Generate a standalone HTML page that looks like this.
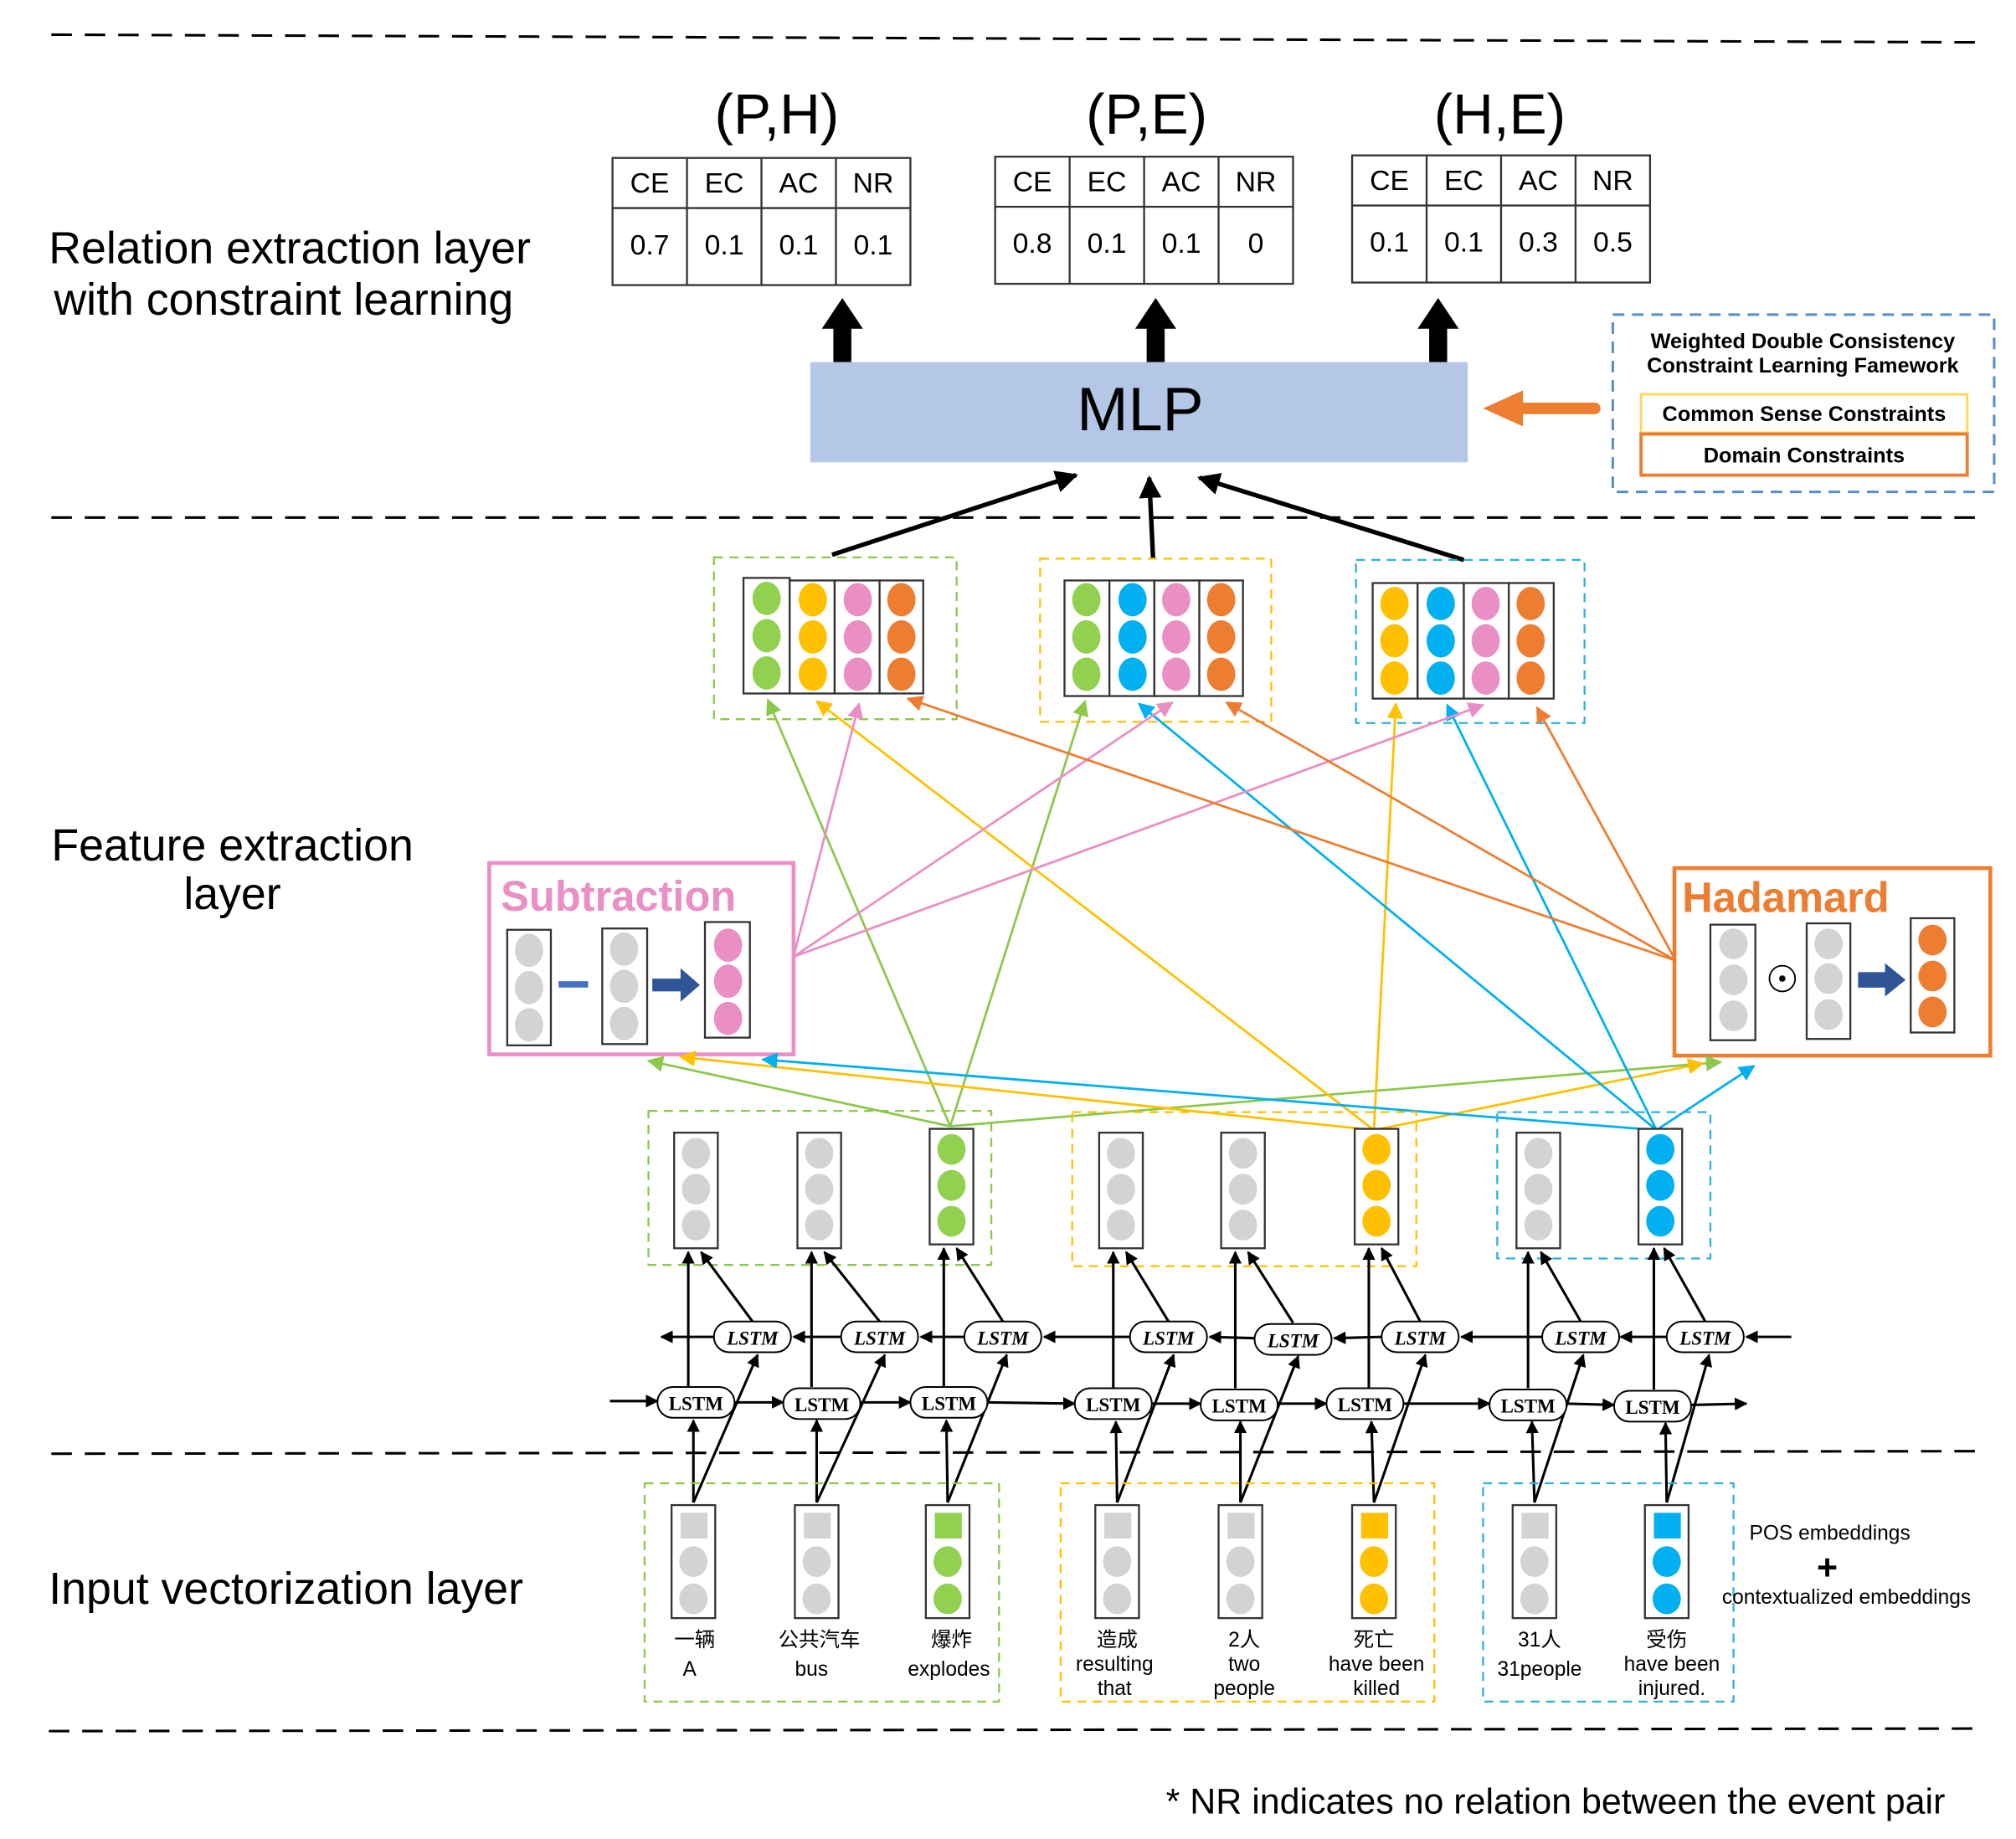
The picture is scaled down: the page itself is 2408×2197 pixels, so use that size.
<!DOCTYPE html>
<html><head><meta charset="utf-8"><style>
html,body{margin:0;padding:0;background:#fff}
svg{display:block}
text{font-family:"Liberation Sans","Noto Sans CJK SC",sans-serif}
</style></head><body>
<svg width="2408" height="2197" viewBox="0 0 1570 1432" preserveAspectRatio="none" xmlns="http://www.w3.org/2000/svg">
<defs>
<marker id="ak" viewBox="0 0 10 10" refX="9" refY="5" markerWidth="5" markerHeight="5" orient="auto"><path d="M0,0L10,5L0,10z" fill="#000"/></marker>
<marker id="ag" viewBox="0 0 10 10" refX="9" refY="5" markerWidth="7" markerHeight="7" orient="auto"><path d="M0,0L10,5L0,10z" fill="#8cc84b"/></marker>
<marker id="ay" viewBox="0 0 10 10" refX="9" refY="5" markerWidth="7" markerHeight="7" orient="auto"><path d="M0,0L10,5L0,10z" fill="#ffc000"/></marker>
<marker id="ab" viewBox="0 0 10 10" refX="9" refY="5" markerWidth="7" markerHeight="7" orient="auto"><path d="M0,0L10,5L0,10z" fill="#00b0f0"/></marker>
<marker id="ap" viewBox="0 0 10 10" refX="9" refY="5" markerWidth="7" markerHeight="7" orient="auto"><path d="M0,0L10,5L0,10z" fill="#e98ec4"/></marker>
<marker id="ao" viewBox="0 0 10 10" refX="9" refY="5" markerWidth="7" markerHeight="7" orient="auto"><path d="M0,0L10,5L0,10z" fill="#ed7d31"/></marker>
</defs>

<g stroke="#000" stroke-width="2" stroke-dasharray="16,10">
<line x1="40" y1="27" x2="1545" y2="33"/>
<line x1="40" y1="403" x2="1545" y2="403"/>
<line x1="40" y1="1132" x2="1545" y2="1130"/>
<line x1="38" y1="1348" x2="1545" y2="1346"/>
</g>

<g font-size="35" fill="#000">
<text x="38" y="205">Relation extraction layer</text>
<text x="42" y="245">with constraint learning</text>
<text x="40" y="670">Feature extraction</text>
<text x="143" y="708">layer</text>
<text x="38" y="1249">Input vectorization layer</text>
</g>

<g font-size="44" text-anchor="middle">
<text x="605" y="104">(P,H)</text>
<text x="893" y="104">(P,E)</text>
<text x="1168" y="104">(H,E)</text>
</g>

<g fill="none" stroke="#333" stroke-width="1.5">
<rect x="477" y="123" width="232" height="99"/><line x1="477" y1="162" x2="709" y2="162"/>
<line x1="535" y1="123" x2="535" y2="222"/><line x1="593" y1="123" x2="593" y2="222"/><line x1="651" y1="123" x2="651" y2="222"/>
<rect x="775" y="122" width="232" height="99"/><line x1="775" y1="161" x2="1007" y2="161"/>
<line x1="833" y1="122" x2="833" y2="221"/><line x1="891" y1="122" x2="891" y2="221"/><line x1="949" y1="122" x2="949" y2="221"/>
<rect x="1053" y="121" width="232" height="99"/><line x1="1053" y1="160" x2="1285" y2="160"/>
<line x1="1111" y1="121" x2="1111" y2="220"/><line x1="1169" y1="121" x2="1169" y2="220"/><line x1="1227" y1="121" x2="1227" y2="220"/>
</g>
<g font-size="22" text-anchor="middle">
<text x="506" y="150">CE</text><text x="564" y="150">EC</text><text x="622" y="150">AC</text><text x="680" y="150">NR</text>
<text x="506" y="198">0.7</text><text x="564" y="198">0.1</text><text x="622" y="198">0.1</text><text x="680" y="198">0.1</text>
<text x="804" y="149">CE</text><text x="862" y="149">EC</text><text x="920" y="149">AC</text><text x="978" y="149">NR</text>
<text x="804" y="197">0.8</text><text x="862" y="197">0.1</text><text x="920" y="197">0.1</text><text x="978" y="197">0</text>
<text x="1082" y="148">CE</text><text x="1140" y="148">EC</text><text x="1198" y="148">AC</text><text x="1256" y="148">NR</text>
<text x="1082" y="196">0.1</text><text x="1140" y="196">0.1</text><text x="1198" y="196">0.3</text><text x="1256" y="196">0.5</text>
</g>

<g fill="#000">
<path d="M649,282 L649,256 L640,256 L656,232 L672,256 L663,256 L663,282z"/>
<path d="M893,282 L893,256 L884,256 L900,232 L916,256 L907,256 L907,282z"/>
<path d="M1113,282 L1113,256 L1104,256 L1120,232 L1136,256 L1127,256 L1127,282z"/>
</g>

<rect x="631" y="282" width="512" height="78" fill="#b4c7e7"/>
<text x="888" y="335" font-size="48" text-anchor="middle">MLP</text>

<line x1="1242" y1="318" x2="1180" y2="318" stroke="#ed7d31" stroke-width="9" stroke-linecap="round"/>
<path d="M1155,318 L1186,304 L1186,332z" fill="#ed7d31"/>

<rect x="1256" y="245" width="297" height="138" fill="none" stroke="#5b8ccc" stroke-width="2" stroke-dasharray="9,6"/>
<g font-size="16.5" font-weight="bold" text-anchor="middle">
<text x="1404" y="271">Weighted Double Consistency</text>
<text x="1404" y="290">Constraint Learning Famework</text>
<text x="1405" y="328">Common Sense Constraints</text>
<text x="1405" y="360">Domain Constraints</text>
</g>
<rect x="1278" y="307" width="254" height="30" fill="none" stroke="#ffd966" stroke-width="2"/>
<rect x="1278" y="338" width="254" height="32" fill="none" stroke="#ed7d31" stroke-width="2.5"/>

<g stroke="#000" stroke-width="3.5" marker-end="url(#ak)">
<line x1="648" y1="432" x2="838" y2="370"/>
<line x1="898" y1="435" x2="895" y2="372"/>
<line x1="1140" y1="436" x2="934" y2="372"/>
</g>

<g fill="none" stroke-width="1.5" stroke-dasharray="7,5">
<rect x="556" y="434" width="189" height="126" stroke="#8cc84b"/>
<rect x="810" y="435" width="180" height="127" stroke="#ffc000"/>
<rect x="1056" y="436" width="178" height="127" stroke="#2eb2d8"/>
</g>
<g fill="#fff" stroke="#333" stroke-width="1.5">
<rect x="579" y="450" width="36" height="90"/><rect x="615" y="452" width="35" height="88"/><rect x="650" y="452" width="35" height="88"/><rect x="685" y="452" width="34" height="88"/>
<rect x="829" y="452" width="35" height="90"/><rect x="864" y="452" width="35" height="90"/><rect x="899" y="452" width="35" height="90"/><rect x="934" y="452" width="34" height="90"/>
<rect x="1069" y="454" width="35" height="90"/><rect x="1104" y="454" width="36" height="90"/><rect x="1140" y="454" width="35" height="90"/><rect x="1175" y="454" width="35" height="90"/>
</g>
<g>
<g fill="#92d050"><ellipse cx="597" cy="466" rx="11" ry="13"/><ellipse cx="597" cy="495" rx="11" ry="13"/><ellipse cx="597" cy="524" rx="11" ry="13"/></g>
<g fill="#ffc000"><ellipse cx="633" cy="467" rx="11" ry="13"/><ellipse cx="633" cy="496" rx="11" ry="13"/><ellipse cx="633" cy="525" rx="11" ry="13"/></g>
<g fill="#ea8fc4"><ellipse cx="668" cy="467" rx="11" ry="13"/><ellipse cx="668" cy="496" rx="11" ry="13"/><ellipse cx="668" cy="525" rx="11" ry="13"/></g>
<g fill="#ed7d31"><ellipse cx="702" cy="467" rx="11" ry="13"/><ellipse cx="702" cy="496" rx="11" ry="13"/><ellipse cx="702" cy="525" rx="11" ry="13"/></g>
<g fill="#92d050"><ellipse cx="846" cy="467" rx="11" ry="13"/><ellipse cx="846" cy="496" rx="11" ry="13"/><ellipse cx="846" cy="525" rx="11" ry="13"/></g>
<g fill="#00b0f0"><ellipse cx="882" cy="467" rx="11" ry="13"/><ellipse cx="882" cy="496" rx="11" ry="13"/><ellipse cx="882" cy="525" rx="11" ry="13"/></g>
<g fill="#ea8fc4"><ellipse cx="916" cy="467" rx="11" ry="13"/><ellipse cx="916" cy="496" rx="11" ry="13"/><ellipse cx="916" cy="525" rx="11" ry="13"/></g>
<g fill="#ed7d31"><ellipse cx="951" cy="467" rx="11" ry="13"/><ellipse cx="951" cy="496" rx="11" ry="13"/><ellipse cx="951" cy="525" rx="11" ry="13"/></g>
<g fill="#ffc000"><ellipse cx="1086" cy="470" rx="11" ry="13"/><ellipse cx="1086" cy="499" rx="11" ry="13"/><ellipse cx="1086" cy="528" rx="11" ry="13"/></g>
<g fill="#00b0f0"><ellipse cx="1122" cy="470" rx="11" ry="13"/><ellipse cx="1122" cy="499" rx="11" ry="13"/><ellipse cx="1122" cy="528" rx="11" ry="13"/></g>
<g fill="#ea8fc4"><ellipse cx="1157" cy="470" rx="11" ry="13"/><ellipse cx="1157" cy="499" rx="11" ry="13"/><ellipse cx="1157" cy="528" rx="11" ry="13"/></g>
<g fill="#ed7d31"><ellipse cx="1192" cy="470" rx="11" ry="13"/><ellipse cx="1192" cy="499" rx="11" ry="13"/><ellipse cx="1192" cy="528" rx="11" ry="13"/></g>
</g>

<rect x="381" y="672" width="237" height="149" fill="#fff" stroke="#ea8fc4" stroke-width="3"/>
<text x="390" y="709" font-size="33" font-weight="bold" fill="#ea8fc4">Subtraction</text>
<g fill="#fff" stroke="#333" stroke-width="1.5">
<rect x="395" y="724" width="34" height="90"/><rect x="469" y="723" width="35" height="90"/><rect x="549" y="718" width="35" height="90"/>
</g>
<g fill="#d3d3d3"><ellipse cx="412" cy="740" rx="11" ry="13"/><ellipse cx="412" cy="769" rx="11" ry="13"/><ellipse cx="412" cy="798" rx="11" ry="13"/>
<ellipse cx="486" cy="739" rx="11" ry="13"/><ellipse cx="486" cy="768" rx="11" ry="13"/><ellipse cx="486" cy="797" rx="11" ry="13"/></g>
<g fill="#ea8fc4"><ellipse cx="567" cy="736" rx="11" ry="13"/><ellipse cx="567" cy="764" rx="11" ry="13"/><ellipse cx="567" cy="793" rx="11" ry="13"/></g>
<rect x="435" y="764" width="23" height="5" fill="#4472c4"/>
<path d="M508,762 L530,762 L530,754 L545,767 L530,780 L530,772 L508,772z" fill="#2f5597"/>

<rect x="1304" y="676" width="246" height="146" fill="#fff" stroke="#ed7d31" stroke-width="3"/>
<text x="1310" y="710" font-size="33" font-weight="bold" fill="#ed7d31">Hadamard</text>
<g fill="#fff" stroke="#333" stroke-width="1.5">
<rect x="1332" y="720" width="35" height="90"/><rect x="1407" y="719" width="34" height="90"/><rect x="1488" y="715" width="34" height="89"/>
</g>
<g fill="#d3d3d3"><ellipse cx="1350" cy="735" rx="11" ry="12"/><ellipse cx="1350" cy="763" rx="11" ry="12"/><ellipse cx="1350" cy="791" rx="11" ry="12"/>
<ellipse cx="1424" cy="735" rx="11" ry="12"/><ellipse cx="1424" cy="762" rx="11" ry="12"/><ellipse cx="1424" cy="790" rx="11" ry="12"/></g>
<g fill="#ed7d31"><ellipse cx="1505" cy="732" rx="11" ry="12"/><ellipse cx="1505" cy="760" rx="11" ry="12"/><ellipse cx="1505" cy="788" rx="11" ry="12"/></g>
<circle cx="1388" cy="762" r="10" fill="#fff" stroke="#000" stroke-width="1.2"/><circle cx="1388" cy="762" r="2.5" fill="#000"/>
<path d="M1447,757 L1468,757 L1468,750 L1484,763 L1468,776 L1468,769 L1447,769z" fill="#2f5597"/>

<g stroke-width="1.8" fill="none">
<g stroke="#8cc84b" marker-end="url(#ag)">
<line x1="740" y1="877" x2="598" y2="545"/><line x1="740" y1="877" x2="845" y2="546"/>
<line x1="740" y1="877" x2="505" y2="826"/><line x1="740" y1="877" x2="1340" y2="827"/>
</g>
<g stroke="#ffc000" marker-end="url(#ay)">
<line x1="1070" y1="880" x2="636" y2="546"/><line x1="1070" y1="880" x2="1087" y2="548"/>
<line x1="1070" y1="880" x2="530" y2="823"/><line x1="1070" y1="880" x2="1326" y2="828"/>
</g>
<g stroke="#00b0f0" marker-end="url(#ab)">
<line x1="1290" y1="880" x2="887" y2="548"/><line x1="1290" y1="880" x2="1127" y2="549"/>
<line x1="1290" y1="880" x2="594" y2="825"/><line x1="1290" y1="880" x2="1366" y2="830"/>
</g>
<g stroke="#ea8fc4" marker-end="url(#ap)">
<line x1="618" y1="745" x2="669" y2="548"/><line x1="618" y1="745" x2="913" y2="547"/><line x1="618" y1="745" x2="1155" y2="549"/>
</g>
<g stroke="#ed7d31" marker-end="url(#ao)">
<line x1="1305" y1="748" x2="707" y2="544"/><line x1="1305" y1="748" x2="955" y2="547"/><line x1="1305" y1="748" x2="1197" y2="551"/>
</g>
</g>

<g fill="none" stroke-width="1.5" stroke-dasharray="7,5">
<rect x="505" y="865" width="267" height="120" stroke="#8cc84b"/>
<rect x="835" y="866" width="268" height="120" stroke="#ffc000"/>
<rect x="1166" y="866" width="166" height="114" stroke="#2eb2d8"/>
</g>
<g fill="#fff" stroke="#333" stroke-width="1.5">
<rect x="525" y="882" width="34" height="90"/><rect x="621" y="882" width="34" height="90"/><rect x="724" y="879" width="34" height="90"/>
<rect x="856" y="882" width="34" height="90"/><rect x="951" y="882" width="34" height="90"/><rect x="1055" y="879" width="34" height="90"/>
<rect x="1181" y="882" width="34" height="90"/><rect x="1276" y="879" width="34" height="90"/>
</g>
<g fill="#d3d3d3">
<ellipse cx="542" cy="898" rx="11" ry="12"/><ellipse cx="542" cy="926" rx="11" ry="12"/><ellipse cx="542" cy="954" rx="11" ry="12"/>
<ellipse cx="638" cy="898" rx="11" ry="12"/><ellipse cx="638" cy="926" rx="11" ry="12"/><ellipse cx="638" cy="954" rx="11" ry="12"/>
<ellipse cx="873" cy="898" rx="11" ry="12"/><ellipse cx="873" cy="926" rx="11" ry="12"/><ellipse cx="873" cy="954" rx="11" ry="12"/>
<ellipse cx="968" cy="898" rx="11" ry="12"/><ellipse cx="968" cy="926" rx="11" ry="12"/><ellipse cx="968" cy="954" rx="11" ry="12"/>
<ellipse cx="1198" cy="898" rx="11" ry="12"/><ellipse cx="1198" cy="926" rx="11" ry="12"/><ellipse cx="1198" cy="954" rx="11" ry="12"/>
</g>
<g fill="#92d050"><ellipse cx="741" cy="895" rx="11" ry="12"/><ellipse cx="741" cy="923" rx="11" ry="12"/><ellipse cx="741" cy="951" rx="11" ry="12"/></g>
<g fill="#ffc000"><ellipse cx="1072" cy="895" rx="11" ry="12"/><ellipse cx="1072" cy="923" rx="11" ry="12"/><ellipse cx="1072" cy="951" rx="11" ry="12"/></g>
<g fill="#00b0f0"><ellipse cx="1293" cy="895" rx="11" ry="12"/><ellipse cx="1293" cy="923" rx="11" ry="12"/><ellipse cx="1293" cy="951" rx="11" ry="12"/></g>

<g stroke="#000" stroke-width="2" marker-end="url(#ak)" fill="none">
<line x1="1395" y1="1041" x2="1360" y2="1041"/>
<line x1="1298" y1="1041" x2="1262" y2="1041"/>
<line x1="1201" y1="1041" x2="1138" y2="1041"/>
<line x1="1076" y1="1041" x2="1039" y2="1042"/>
<line x1="977" y1="1042" x2="942" y2="1041"/>
<line x1="880" y1="1041" x2="813" y2="1041"/>
<line x1="751" y1="1041" x2="717" y2="1041"/>
<line x1="655" y1="1041" x2="618" y2="1041"/>
<line x1="556" y1="1041" x2="515" y2="1041"/>
<line x1="475" y1="1091" x2="512" y2="1091"/>
<line x1="572" y1="1092" x2="610" y2="1092"/>
<line x1="670" y1="1092" x2="709" y2="1092"/>
<line x1="769" y1="1092" x2="837" y2="1093"/>
<line x1="897" y1="1093" x2="935" y2="1093"/>
<line x1="995" y1="1093" x2="1033" y2="1093"/>
<line x1="1093" y1="1093" x2="1160" y2="1093"/>
<line x1="1220" y1="1093" x2="1257" y2="1094"/>
<line x1="1317" y1="1094" x2="1360" y2="1093"/>
<line x1="536" y1="1080" x2="536" y2="975"/><line x1="632" y1="1080" x2="632" y2="975"/><line x1="735" y1="1080" x2="735" y2="972"/>
<line x1="867" y1="1081" x2="867" y2="975"/><line x1="962" y1="1081" x2="962" y2="975"/><line x1="1066" y1="1081" x2="1066" y2="972"/>
<line x1="1190" y1="1081" x2="1190" y2="975"/><line x1="1288" y1="1082" x2="1288" y2="972"/>
<line x1="586" y1="1029" x2="546" y2="975"/><line x1="685" y1="1029" x2="642" y2="975"/><line x1="781" y1="1029" x2="745" y2="972"/>
<line x1="910" y1="1029" x2="877" y2="975"/><line x1="1007" y1="1030" x2="972" y2="975"/><line x1="1106" y1="1029" x2="1076" y2="972"/>
<line x1="1231" y1="1029" x2="1200" y2="975"/><line x1="1328" y1="1029" x2="1296" y2="972"/>
<line x1="540" y1="1170" x2="540" y2="1106"/><line x1="540" y1="1170" x2="590" y2="1055"/>
<line x1="636" y1="1170" x2="636" y2="1106"/><line x1="636" y1="1170" x2="689" y2="1055"/>
<line x1="738" y1="1170" x2="737" y2="1106"/><line x1="738" y1="1170" x2="784" y2="1055"/>
<line x1="870" y1="1170" x2="869" y2="1107"/><line x1="870" y1="1170" x2="914" y2="1055"/>
<line x1="966" y1="1170" x2="966" y2="1107"/><line x1="966" y1="1170" x2="1011" y2="1056"/>
<line x1="1070" y1="1170" x2="1068" y2="1107"/><line x1="1070" y1="1170" x2="1110" y2="1055"/>
<line x1="1195" y1="1170" x2="1193" y2="1107"/><line x1="1195" y1="1170" x2="1233" y2="1055"/>
<line x1="1298" y1="1170" x2="1297" y2="1108"/><line x1="1298" y1="1170" x2="1331" y2="1055"/>
</g>

<g fill="#fff" stroke="#000" stroke-width="1.3">
<rect x="556" y="1029" width="60" height="24" rx="12"/><rect x="655" y="1029" width="60" height="24" rx="12"/><rect x="751" y="1029" width="60" height="24" rx="12"/>
<rect x="880" y="1029" width="60" height="24" rx="12"/><rect x="977" y="1031" width="60" height="24" rx="12"/><rect x="1076" y="1029" width="60" height="24" rx="12"/>
<rect x="1201" y="1029" width="60" height="24" rx="12"/><rect x="1298" y="1029" width="60" height="24" rx="12"/>
<rect x="512" y="1080" width="60" height="24" rx="12"/><rect x="610" y="1081" width="60" height="24" rx="12"/><rect x="709" y="1080" width="60" height="24" rx="12"/>
<rect x="837" y="1081" width="60" height="24" rx="12"/><rect x="935" y="1082" width="60" height="24" rx="12"/><rect x="1033" y="1081" width="60" height="24" rx="12"/>
<rect x="1160" y="1082" width="60" height="24" rx="12"/><rect x="1257" y="1083" width="60" height="24" rx="12"/>
</g>
<g font-size="15" font-weight="bold" font-style="italic" text-anchor="middle">
<text x="586" y="1047" style="font-family:'Liberation Serif',serif">LSTM</text><text x="685" y="1047" style="font-family:'Liberation Serif',serif">LSTM</text><text x="781" y="1047" style="font-family:'Liberation Serif',serif">LSTM</text>
<text x="910" y="1047" style="font-family:'Liberation Serif',serif">LSTM</text><text x="1007" y="1049" style="font-family:'Liberation Serif',serif">LSTM</text><text x="1106" y="1047" style="font-family:'Liberation Serif',serif">LSTM</text>
<text x="1231" y="1047" style="font-family:'Liberation Serif',serif">LSTM</text><text x="1328" y="1047" style="font-family:'Liberation Serif',serif">LSTM</text>
</g>
<g font-size="15" font-weight="bold" text-anchor="middle">
<text x="542" y="1098" style="font-family:'Liberation Serif',serif">LSTM</text><text x="640" y="1099" style="font-family:'Liberation Serif',serif">LSTM</text><text x="739" y="1098" style="font-family:'Liberation Serif',serif">LSTM</text>
<text x="867" y="1099" style="font-family:'Liberation Serif',serif">LSTM</text><text x="965" y="1100" style="font-family:'Liberation Serif',serif">LSTM</text><text x="1063" y="1099" style="font-family:'Liberation Serif',serif">LSTM</text>
<text x="1190" y="1100" style="font-family:'Liberation Serif',serif">LSTM</text><text x="1287" y="1101" style="font-family:'Liberation Serif',serif">LSTM</text>
</g>

<g fill="none" stroke-width="1.5" stroke-dasharray="7,5">
<rect x="502" y="1155" width="276" height="170" stroke="#8cc84b"/>
<rect x="826" y="1155" width="291" height="170" stroke="#ffc000"/>
<rect x="1155" y="1155" width="195" height="170" stroke="#2eb2d8"/>
</g>
<g fill="#fff" stroke="#333" stroke-width="1.5">
<rect x="523" y="1172" width="34" height="88"/><rect x="619" y="1172" width="34" height="88"/><rect x="721" y="1172" width="34" height="88"/>
<rect x="853" y="1172" width="34" height="88"/><rect x="949" y="1172" width="34" height="88"/><rect x="1053" y="1172" width="34" height="88"/>
<rect x="1178" y="1172" width="34" height="88"/><rect x="1281" y="1172" width="34" height="88"/>
</g>
<g fill="#d3d3d3">
<rect x="530" y="1178" width="21" height="20"/><ellipse cx="540" cy="1216" rx="11" ry="12"/><ellipse cx="540" cy="1245" rx="11" ry="12"/>
<rect x="626" y="1178" width="21" height="20"/><ellipse cx="636" cy="1216" rx="11" ry="12"/><ellipse cx="636" cy="1245" rx="11" ry="12"/>
<rect x="860" y="1178" width="21" height="20"/><ellipse cx="870" cy="1216" rx="11" ry="12"/><ellipse cx="870" cy="1245" rx="11" ry="12"/>
<rect x="956" y="1178" width="21" height="20"/><ellipse cx="966" cy="1216" rx="11" ry="12"/><ellipse cx="966" cy="1245" rx="11" ry="12"/>
<rect x="1185" y="1178" width="21" height="20"/><ellipse cx="1195" cy="1216" rx="11" ry="12"/><ellipse cx="1195" cy="1245" rx="11" ry="12"/>
</g>
<g fill="#92d050"><rect x="728" y="1178" width="21" height="20"/><ellipse cx="738" cy="1216" rx="11" ry="12"/><ellipse cx="738" cy="1245" rx="11" ry="12"/></g>
<g fill="#ffc000"><rect x="1060" y="1178" width="21" height="20"/><ellipse cx="1070" cy="1216" rx="11" ry="12"/><ellipse cx="1070" cy="1245" rx="11" ry="12"/></g>
<g fill="#00b0f0"><rect x="1288" y="1178" width="21" height="20"/><ellipse cx="1298" cy="1216" rx="11" ry="12"/><ellipse cx="1298" cy="1245" rx="11" ry="12"/></g>

<g font-size="16" text-anchor="middle">
<text x="541" y="1282">一辆</text><text x="537" y="1305">A</text>
<text x="638" y="1282">公共汽车</text><text x="632" y="1305">bus</text>
<text x="741" y="1282">爆炸</text><text x="739" y="1305">explodes</text>
<text x="870" y="1282">造成</text><text x="868" y="1301">resulting</text><text x="868" y="1320">that</text>
<text x="969" y="1282">2人</text><text x="969" y="1301">two</text><text x="969" y="1320">people</text>
<text x="1070" y="1282">死亡</text><text x="1072" y="1301">have been</text><text x="1072" y="1320">killed</text>
<text x="1199" y="1282">31人</text><text x="1199" y="1305">31people</text>
<text x="1298" y="1282">受伤</text><text x="1302" y="1301">have been</text><text x="1302" y="1320">injured.</text>
</g>

<text x="1425" y="1199" font-size="16" text-anchor="middle">POS embeddings</text>
<text x="1423" y="1230" font-size="28" font-weight="bold" text-anchor="middle">+</text>
<text x="1438" y="1249" font-size="16" text-anchor="middle">contextualized embeddings</text>

<text x="908" y="1412" font-size="28">* NR  indicates no relation between the event pair</text>
</svg>
</body></html>
